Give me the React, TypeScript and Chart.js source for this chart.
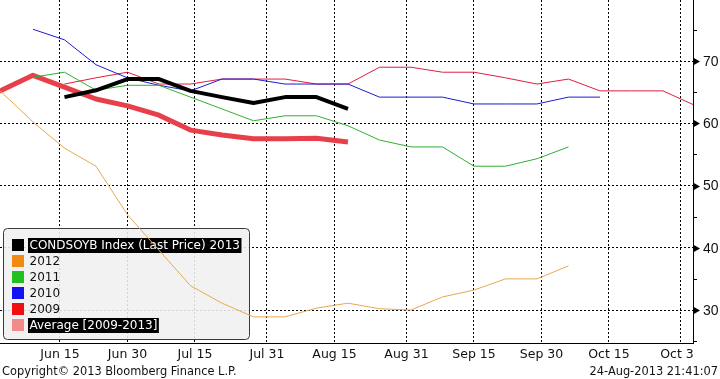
import React, { useEffect, useRef } from 'react';
import { Chart, registerables } from 'chart.js';

Chart.register(...registerables);

// Day-of-year for weekly observations
const weekDays = [146, 153, 160, 167, 174, 181, 188, 195, 202, 209, 216, 223, 230, 237, 244, 251, 258, 265, 272, 279, 286, 293, 300, 307];

// x-axis ticks (day-of-year) and labels
const tickDays = [166, 181, 196, 212, 227, 243, 258, 273, 288, 304];
const tickLabels = ['Jun 15', 'Jun 30', 'Jul 15', 'Jul 31', 'Aug 15', 'Aug 31', 'Sep 15', 'Sep 30', 'Oct 15', 'Oct 31'];

const yMajorTicks = [30, 40, 50, 60, 70];
const yMinorTicks = [25, 35, 45, 55, 65, 75];

const s2013 = [null, null, null, 64.2, 65.3, 67.1, 67.1, 65.2, 64.2, 63.25, 64.2, 64.2, 62.3, null, null, null, null, null, null, null, null, null, null, null];
const s2012 = [67.5, 65.0, 60.2, 56.0, 53.1, 45.3, 39.6, 33.9, 31.1, 28.9, 28.9, 30.3, 31.1, 30.2, 30.0, 32.1, 33.2, 35.0, 35.0, 37.1, null, null, null, null];
const s2011 = [null, null, 67.4, 68.2, 65.3, 66.1, 66.1, 64.2, 62.3, 60.4, 61.2, 61.2, 59.6, 57.3, 56.2, 56.2, 53.1, 53.1, 54.3, 56.2, null, null, null, null];
const s2010 = [null, null, 75.1, 73.4, 69.4, 67.3, 66.1, 65.2, 67.1, 67.1, 66.3, 66.3, 66.3, 64.2, 64.2, 64.2, 63.1, 63.1, 63.1, 64.2, 64.2, null, null, null];
const s2009 = [null, null, null, 66.3, 67.3, 68.2, 66.3, 66.3, 67.1, 67.1, 67.1, 66.3, 66.3, 69.0, 69.0, 68.2, 68.2, 67.3, 66.3, 67.1, 65.2, 65.2, 65.2, 62.9];
const sAvg = [63.5, 65.3, 67.7, 65.8, 63.9, 62.8, 61.3, 58.9, 58.1, 57.5, 57.5, 57.6, 57.0, null, null, null, null, null, null, null, null, null, null, null];

const seriesNames = ['CONDSOYB Index (Last Price) 2013', '2012', '2011', '2010', '2009', 'Average [2009-2013]'];
const seriesData = [s2013, s2012, s2011, s2010, s2009, sAvg];
const lineColors = ['#000000', '#e8a850', '#30b030', '#1c1cd0', '#e01c40', '#e8404a'];
const lineWidths = [4, 1, 1, 1, 1, 5];
const legendColors = ['#000000', '#f08a10', '#20c020', '#1010f0', '#f01010', '#f08c8c'];
const legendHighlighted = [true, false, false, false, false, true];

const footerLeft = 'Copyright\u00a9 2013 Bloomberg Finance L.P.';
const footerRight = '24-Aug-2013 21:41:07';

const FONT = '"DejaVu Sans", Verdana, sans-serif';
const FONT_Y = '"Liberation Sans", Arial, sans-serif';

export default function App() {
  const canvasRef = useRef<HTMLCanvasElement | null>(null);

  useEffect(() => {
    document.body.style.margin = '0';
    const canvas = canvasRef.current;
    if (!canvas) return;

    const legendPlugin = {
      id: 'bbgLegend',
      beforeDatasetsDraw(chart: any) {
        const ctx = chart.ctx as CanvasRenderingContext2D;
        ctx.save();
        const x = 3.5, y = 228.5, w = 246, h = 111, r = 4;
        ctx.beginPath();
        ctx.moveTo(x + r, y);
        ctx.lineTo(x + w - r, y);
        ctx.arcTo(x + w, y, x + w, y + r, r);
        ctx.lineTo(x + w, y + h - r);
        ctx.arcTo(x + w, y + h, x + w - r, y + h, r);
        ctx.lineTo(x + r, y + h);
        ctx.arcTo(x, y + h, x, y + h - r, r);
        ctx.lineTo(x, y + r);
        ctx.arcTo(x, y, x + r, y, r);
        ctx.closePath();
        ctx.fillStyle = 'rgba(240,240,240,0.88)';
        ctx.fill();
        ctx.strokeStyle = '#3a3a3a';
        ctx.lineWidth = 1;
        ctx.stroke();
        ctx.font = '12px ' + FONT;
        ctx.textBaseline = 'middle';
        ctx.textAlign = 'left';
        seriesNames.forEach((name, i) => {
          const cy = 245 + i * 16;
          ctx.fillStyle = legendColors[i];
          ctx.fillRect(12, cy - 6, 12, 12);
          const tw = ctx.measureText(name).width;
          if (legendHighlighted[i]) {
            ctx.fillStyle = '#000';
            ctx.fillRect(28, cy - 7, tw + 3, 15);
            ctx.fillStyle = '#fff';
          } else {
            ctx.fillStyle = '#111';
          }
          ctx.fillText(name, 29.5, cy + 1);
        });
        ctx.restore();
      },
    };

    const axisPlugin = {
      id: 'bbgAxes',
      afterDraw(chart: any) {
        const ctx = chart.ctx as CanvasRenderingContext2D;
        const ys = chart.scales.y;
        const xs = chart.scales.x;
        const area = chart.chartArea;
        ctx.save();
        // y ticks
        ctx.fillStyle = '#000';
        ctx.strokeStyle = '#000';
        ctx.lineWidth = 1;
        yMajorTicks.forEach((v) => {
          const py = Math.round(ys.getPixelForValue(v));
          ctx.beginPath();
          ctx.moveTo(area.right, py - 3.5);
          ctx.lineTo(area.right + 7, py + 0.5);
          ctx.lineTo(area.right, py + 4.5);
          ctx.closePath();
          ctx.fill();
        });
        yMinorTicks.forEach((v) => {
          const py = Math.round(ys.getPixelForValue(v)) + 0.5;
          ctx.beginPath();
          ctx.moveTo(area.right, py);
          ctx.lineTo(area.right + 4, py);
          ctx.stroke();
        });
        ctx.font = '14px ' + FONT_Y;
        ctx.textAlign = 'left';
        ctx.textBaseline = 'middle';
        ctx.fillStyle = '#111';
        yMajorTicks.forEach((v) => {
          const py = ys.getPixelForValue(v);
          ctx.fillText(String(v), area.right + 10, py + 1);
        });
        // x labels (clipped at the axis)
        ctx.save();
        ctx.beginPath();
        ctx.rect(0, area.bottom, area.right, 40);
        ctx.clip();
        ctx.font = '12.5px ' + FONT;
        ctx.textAlign = 'center';
        ctx.textBaseline = 'alphabetic';
        tickDays.forEach((d, i) => {
          const px = xs.getPixelForValue(d);
          ctx.fillText(tickLabels[i], px, 358);
        });
        ctx.restore();
        // footer
        ctx.font = '11.4px ' + FONT;
        ctx.fillStyle = '#111';
        ctx.textBaseline = 'alphabetic';
        ctx.textAlign = 'left';
        ctx.fillText(footerLeft, 2, 375);
        ctx.textAlign = 'right';
        ctx.fillText(footerRight, 718, 375);
        ctx.restore();
      },
    };

    const datasets = seriesNames.map((name, i) => ({
      label: name,
      data: weekDays.map((d, j) => ({ x: d, y: seriesData[i][j] })),
      borderColor: lineColors[i],
      backgroundColor: lineColors[i],
      borderWidth: lineWidths[i],
      pointRadius: 0,
      tension: 0,
      spanGaps: false,
      fill: false,
      borderJoinStyle: 'round' as const,
      borderCapStyle: 'butt' as const,
    }));

    const chart = new Chart(canvas, {
      type: 'line',
      data: { datasets },
      options: {
        animation: false,
        responsive: false,
        devicePixelRatio: 1,
        layout: { padding: 0 },
        plugins: { legend: { display: false }, tooltip: { enabled: false } },
        scales: {
          x: {
            type: 'linear',
            position: 'bottom',
            min: 152.67,
            max: 306.67,
            afterBuildTicks: (s: any) => {
              s.ticks = tickDays.map((v) => ({ value: v }));
            },
            afterFit: (s: any) => {
              s.height = 36;
            },
            ticks: { display: false },
            grid: { color: '#000', lineWidth: 1, drawTicks: false, tickLength: 0 },
            border: { display: true, color: '#000', width: 1, dash: [2, 2] },
          },
          y: {
            type: 'linear',
            position: 'right',
            min: 24.7,
            max: 79.8,
            afterBuildTicks: (s: any) => {
              s.ticks = [25, 30, 35, 40, 45, 50, 55, 60, 65, 70, 75].map((v) => ({ value: v }));
            },
            afterFit: (s: any) => {
              s.width = 27;
            },
            ticks: { display: false },
            grid: {
              color: (c: any) => (c.tick && c.tick.value % 10 === 0 ? '#000' : 'rgba(0,0,0,0)'),
              lineWidth: 1,
              drawTicks: false,
              tickLength: 0,
            },
            border: { display: true, color: '#000', width: 1, dash: [2, 2] },
          },
        },
      },
      plugins: [legendPlugin, axisPlugin],
    } as any);

    return () => {
      chart.destroy();
    };
  }, []);

  return (
    <div style={{ width: 720, height: 379, background: '#fff' }}>
      <canvas ref={canvasRef} width={720} height={379} style={{ display: 'block' }} />
    </div>
  );
}
